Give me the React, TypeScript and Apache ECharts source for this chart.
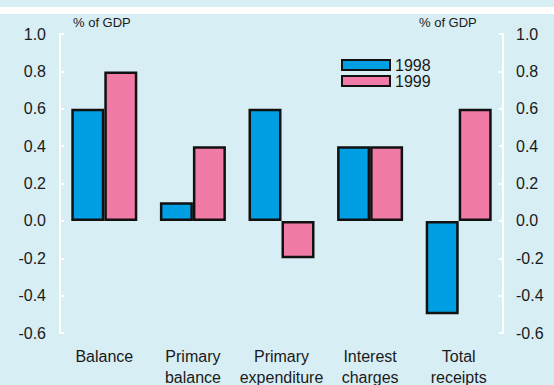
import React, { useEffect, useRef } from "react";
import * as echarts from "echarts";

const categories = ["Balance", "Primary\nbalance", "Primary\nexpenditure", "Interest\ncharges", "Total\nreceipts"];
const values1998 = [0.6, 0.1, 0.6, 0.4, -0.5];
const values1999 = [0.8, 0.4, -0.2, 0.4, 0.6];
const seriesNames = ["1998", "1999"];
const unitLabel = "% of GDP";

const FONT = "'Liberation Sans', Arial, sans-serif";
const BG = "#d8eef5";
const BLUE = "#009fe3";
const PINK = "#f07ba7";
const TXT = "#1a1a1a";

export default function App() {
  const ref = useRef<HTMLDivElement>(null);
  useEffect(() => {
    if (!ref.current) return;
    const chart = echarts.init(ref.current, null, { renderer: "svg" });
    const yAxisCommon = (position: "left" | "right") => ({
      type: "value" as const,
      position,
      min: -0.6,
      max: 1.0,
      interval: 0.2,
      axisLine: { show: true, lineStyle: { color: "#ffffff", width: 2 } },
      axisTick: { show: true, inside: true, length: 4, lineStyle: { color: "#ffffff", width: 2 } },
      splitLine: { show: false },
      axisLabel: {
        color: TXT,
        fontSize: 16,
        fontFamily: FONT,
        margin: position === "left" ? 14 : 13,
        formatter: (v: number) => v.toFixed(1),
      },
    });
    chart.setOption({
      animation: false,
      backgroundColor: BG,
      graphic: [
        { type: "rect", left: 0, top: 7, shape: { width: 554, height: 7 }, style: { fill: "#ffffff" }, z: 1 },
        { type: "text", left: 73, top: 16, style: { text: unitLabel, fontSize: 13, fontFamily: FONT, fill: TXT } },
        { type: "text", left: 419, top: 16, style: { text: unitLabel, fontSize: 13, fontFamily: FONT, fill: TXT } },
      ],
      legend: {
        data: seriesNames,
        orient: "vertical",
        left: 341,
        top: 57,
        padding: 0,
        itemWidth: 48,
        itemHeight: 10,
        itemGap: 0,
        icon: "rect",
        textStyle: { color: TXT, fontSize: 16, fontFamily: FONT, lineHeight: 16, padding: [0, 0, 0, 0] },
      },
      grid: { left: 60, right: 51, top: 34, bottom: 52, outerBoundsMode: "none", containLabel: false },
      xAxis: [
        {
          type: "category",
          data: categories,
          z: 10,
          axisLine: {
            show: true,
            onZero: true,
            lineStyle: { color: "#ffffff", width: 2, shadowColor: "rgba(0,0,0,0.18)", shadowOffsetY: 1.5, shadowBlur: 0 },
          },
          axisTick: { show: false },
          axisLabel: { show: false },
          splitLine: { show: false },
        },
        {
          type: "category",
          data: categories,
          position: "bottom",
          axisLine: { show: false, onZero: false },
          axisTick: { show: false },
          splitLine: { show: false },
          axisLabel: { color: TXT, fontSize: 16, fontFamily: FONT, margin: 13, lineHeight: 21, interval: 0, hideOverlap: false },
        },
      ],
      yAxis: [yAxisCommon("left"), yAxisCommon("right")],
      series: [
        {
          name: seriesNames[0],
          type: "bar",
          data: values1998,
          xAxisIndex: 0,
          yAxisIndex: 0,
          barWidth: 33,
          barGap: "0%",
          itemStyle: { color: BLUE, borderColor: "#111111", borderWidth: 2.5 },
        },
        {
          name: seriesNames[1],
          type: "bar",
          data: values1999,
          xAxisIndex: 0,
          yAxisIndex: 0,
          barWidth: 33,
          barGap: "0%",
          itemStyle: { color: PINK, borderColor: "#111111", borderWidth: 2.5 },
        },
      ],
    });
    return () => chart.dispose();
  }, []);
  return <div ref={ref} style={{ position: "absolute", left: 0, top: 0, width: 554, height: 385 }} />;
}
